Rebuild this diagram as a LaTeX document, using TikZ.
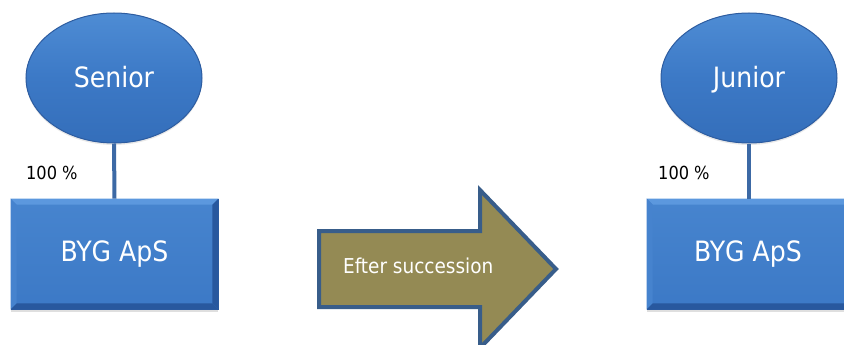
\documentclass[tikz,border=0pt]{standalone}
\usepackage{fontspec}
\setmainfont{DejaVu Sans Condensed}
\usetikzlibrary{shapes.geometric,shadows,calc}
\definecolor{boxtop}{RGB}{78,140,212}
\definecolor{boxmid}{RGB}{60,121,198}
\definecolor{boxbot}{RGB}{52,110,186}
\definecolor{boxedge}{RGB}{45,92,160}
\definecolor{bevelhi}{RGB}{92,152,222}
\definecolor{bevelside}{RGB}{70,131,206}
\definecolor{bevellow}{RGB}{40,88,158}
\definecolor{linkblue}{RGB}{60,105,165}
\definecolor{olive}{RGB}{148,138,84}
\definecolor{arrowedge}{RGB}{56,93,138}
\tikzset{
  person/.style={ellipse, minimum width=176pt, minimum height=130pt, inner sep=0pt,
    top color=boxtop, bottom color=boxbot, middle color=boxmid,
    draw=boxedge, line width=1pt, text=white,
    font=\fontsize{28}{32}\selectfont, text height=23pt, text depth=3pt,
    drop shadow={opacity=0.18, shadow xshift=0pt, shadow yshift=-2pt}},
  company/.style={rectangle, minimum width=207pt, minimum height=110pt, inner sep=0pt,
    top color=boxtop!60!boxmid, bottom color=boxmid, draw=boxedge, line width=0.6pt,
    drop shadow={opacity=0.25, shadow xshift=0pt, shadow yshift=-3pt}},
  boxlabel/.style={text=white, font=\fontsize{28}{32}\selectfont, inner sep=0pt},
  link/.style={draw=linkblue, line width=4pt},
  share/.style={font=\fontsize{18}{20}\selectfont, text=black, inner sep=0pt},
  bevellight/.style={fill=bevelhi, draw=none},
  bevelleft/.style={fill=bevelside, draw=none},
  beveldark/.style={fill=bevellow, draw=none},
  bigarrow/.style={fill=olive, draw=arrowedge, line width=4pt, line join=miter},
  arrowlabel/.style={font=\fontsize{20.5}{22}\selectfont, text=white, inner sep=0pt}
}
\newcommand{\bevelbox}[1]{%
  \fill[bevellight] (#1.north west) -- (#1.north east) -- ($(#1.north east)+(-6,6)$) -- ($(#1.north west)+(6,6)$) -- cycle;
  \fill[bevelleft] (#1.north west) -- ($(#1.north west)+(6,6)$) -- ($(#1.south west)+(6,-6)$) -- (#1.south west) -- cycle;
  \fill[beveldark] (#1.north east) -- ($(#1.north east)+(-6,6)$) -- ($(#1.south east)+(-6,-6)$) -- (#1.south east) -- cycle;
  \fill[beveldark] (#1.south west) -- (#1.south east) -- ($(#1.south east)+(-6,-6)$) -- ($(#1.south west)+(6,-6)$) -- cycle;
}
\begin{document}
\begin{tikzpicture}[x=1pt,y=-1pt]
  \useasboundingbox (0,0) rectangle (844,345);
  \begin{scope}
  \clip (0,0) rectangle (844,345);

  % left: owner before the succession
  \node[person] (senior) at (114,78) {Senior};
  \node[company] (bygA) at (114.5,254) {};
  \bevelbox{bygA}
  \node[boxlabel] (bygAtext) at (bygA.center) {BYG ApS};
  \draw[link] (senior.south) -- (bygA.north);
  \node[share, anchor=west] (shareA) at (26,173) {100 \%};

  % middle: transition arrow
  \coordinate (ta) at (319,231);
  \coordinate (tb) at (480,231);
  \coordinate (tc) at (480,190);
  \coordinate (tip) at (556,269);
  \coordinate (td) at (480,348);
  \coordinate (te) at (480,307);
  \coordinate (tf) at (319,307);
  \draw[bigarrow] (ta) -- (tb) -- (tc) -- (tip) -- (td) -- (te) -- (tf) -- cycle;
  \node[arrowlabel, anchor=west] (succ) at (343,266) {Efter succession};

  % right: owner after the succession
  \node[person] (junior) at (749,78) {Junior};
  \node[company] (bygB) at (750.5,254) {};
  \bevelbox{bygB}
  \node[boxlabel] (bygBtext) at (748,254) {BYG ApS};
  \draw[link] (junior.south) -- (junior.south |- bygB.north);
  \node[share, anchor=west] (shareB) at (658,173) {100 \%};
  \end{scope}
\end{tikzpicture}
\end{document}
